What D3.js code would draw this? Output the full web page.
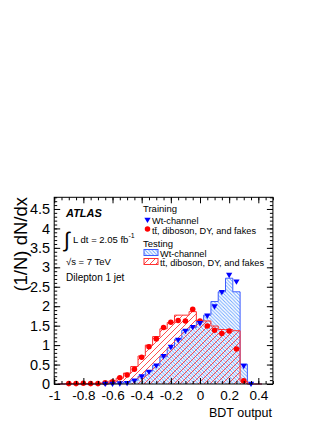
<!DOCTYPE html>
<html>
<head>
<meta charset="utf-8">
<script src="https://cdn.jsdelivr.net/npm/d3@7"></script>
<style>
body { margin: 0; background: #fff; }
text { font-family: "Liberation Sans", Arial, Helvetica, sans-serif; }
</style>
</head>
<body>
<div id="chart"></div>
<script>
//bin centres of the BDT output histograms
var binCentres = [-0.95, -0.9, -0.85, -0.8, -0.75, -0.7, -0.65, -0.6, -0.55, -0.5,
    -0.45, -0.4, -0.35, -0.3, -0.25, -0.2, -0.15, -0.1, -0.05, 0,
    0.05, 0.1, 0.15, 0.2, 0.25, 0.3, 0.35, 0.4];
var binWidth = 0.05;

//training samples (markers)
var wtTrain = [null, null, null, null, null, null, 0.0, 0.0, 0.01, 0.02,
    0.08, 0.19, 0.31, 0.47, 0.71, 0.95, 1.13, 1.36, 1.46, 1.56,
    1.75, 1.99, 2.36, 2.8, 2.63, 0.46, 0.0, null];
var ttTrain = [null, 0.01, 0.01, 0.02, 0.01, 0.01, 0.03, 0.06, 0.16, 0.23,
    0.38, 0.69, 0.96, 1.16, 1.45, 1.59, 1.63, 1.62, 1.92, 1.62,
    1.49, 1.38, 1.30, 1.36, 0.90, 0.08, null, null];

//testing samples (hatched histograms)
var wtTest = [0, 0, 0, 0, 0, 0, 0, 0.01, 0.02, 0.05,
    0.1, 0.2, 0.33, 0.48, 0.7, 0.93, 1.15, 1.38, 1.45, 1.62,
    1.77, 2.12, 2.37, 2.72, 2.37, 0.51, 0, 0];
var ttTest = [0, 0.01, 0.01, 0.01, 0.01, 0.02, 0.03, 0.08, 0.15, 0.28,
    0.45, 0.72, 1.0, 1.22, 1.42, 1.58, 1.77, 1.77, 1.86, 1.62,
    1.62, 1.49, 1.40, 1.40, 1.37, 0.07, 0, 0];

//axis ticks
var xTickLabels = [-1, -0.8, -0.6, -0.4, -0.2, 0, 0.2, 0.4];
var yTickLabels = [0, 0.5, 1, 1.5, 2, 2.5, 3, 3.5, 4, 4.5];

var width = 327, height = 423;

var svg = d3.select("#chart").append("svg")
    .attr("width", width)
    .attr("height", height);

var x = d3.scaleLinear().domain([-1, 0.5]).range([54.2, 272.9]);
var y = d3.scaleLinear().domain([0, 4.8]).range([384, 197.3]);

//hatch patterns
var defs = svg.append("defs");
defs.append("pattern")
    .attr("id", "hatchBlue")
    .attr("patternUnits", "userSpaceOnUse")
    .attr("width", 3.5).attr("height", 3.5)
    .append("path")
    .attr("d", "M-1,2.5 l2,2 M0,0 l3.5,3.5 M2.5,-1 l2,2")
    .attr("stroke", "#6aa4ff")
    .attr("stroke-width", 0.9);
defs.append("pattern")
    .attr("id", "hatchRed")
    .attr("patternUnits", "userSpaceOnUse")
    .attr("width", 6).attr("height", 6)
    .append("path")
    .attr("d", "M-1,1 l2,-2 M0,6 l6,-6 M5,7 l2,-2")
    .attr("stroke", "#ff3a3a")
    .attr("stroke-width", 0.9);

//build the step outline of a histogram
function histPath(vals, close) {
    var p = "M" + x(binCentres[0] - binWidth / 2) + "," + y(0);
    for (var i = 0; i < vals.length; i++) {
        var lo = binCentres[i] - binWidth / 2, hi = binCentres[i] + binWidth / 2;
        p += "L" + x(lo) + "," + y(vals[i]) + "L" + x(hi) + "," + y(vals[i]);
    }
    p += "L" + x(binCentres[vals.length - 1] + binWidth / 2) + "," + y(0);
    if (close) p += "Z";
    return p;
}

var plot = svg.append("g");

//Wt-channel testing
plot.append("path")
    .attr("d", histPath(wtTest, true))
    .attr("fill", "url(#hatchBlue)")
    .attr("stroke", "none");
plot.append("path")
    .attr("d", histPath(wtTest, false))
    .attr("fill", "none")
    .attr("stroke", "#3d5cff")
    .attr("stroke-width", 1);

//ttbar etc testing
plot.append("path")
    .attr("d", histPath(ttTest, true))
    .attr("fill", "url(#hatchRed)")
    .attr("stroke", "none");
plot.append("path")
    .attr("d", histPath(ttTest, false))
    .attr("fill", "none")
    .attr("stroke", "#ff3030")
    .attr("stroke-width", 1);

//training markers
var tri = d3.symbol().type(d3.symbolTriangle).size(17);
var dot = d3.symbol().type(d3.symbolCircle).size(24);

plot.selectAll(".tt")
    .data(binCentres.map(function (c, i) { return [c, ttTrain[i]]; })
        .filter(function (d) { return d[1] !== null; }))
    .enter().append("path")
    .attr("class", "tt")
    .attr("d", dot)
    .attr("transform", function (d) { return "translate(" + x(d[0]) + "," + y(d[1]) + ")"; })
    .attr("fill", "#ff0000");

plot.selectAll(".wt")
    .data(binCentres.map(function (c, i) { return [c, wtTrain[i]]; })
        .filter(function (d) { return d[1] !== null; }))
    .enter().append("path")
    .attr("class", "wt")
    .attr("d", tri)
    .attr("transform", function (d) { return "translate(" + x(d[0]) + "," + (y(d[1]) - 0.5) + ") rotate(180)"; })
    .attr("fill", "#0000ff");

//axes, ticks pointing inwards on all four sides
var xMinor = d3.range(-20, 11).map(function (i) { return i * 0.05; });
var yMinor = d3.range(0, 49).map(function (i) { return i * 0.1; });

function styleAxis(g, size) {
    g.select(".domain").remove();
    g.selectAll("line").attr("stroke", "#000").attr("stroke-width", 1);
    g.attr("font-size", size).attr("font-family", "Liberation Sans, Arial, sans-serif");
    g.selectAll("text").attr("fill", "#000");
}

svg.append("g").attr("transform", "translate(0,384)")
    .call(d3.axisBottom(x).tickValues(xMinor).tickSize(-3).tickFormat(""))
    .call(styleAxis, 13);
svg.append("g").attr("transform", "translate(0,384)")
    .call(d3.axisBottom(x).tickValues(xTickLabels).tickSize(-6).tickPadding(6)
        .tickFormat(function (d) { return String(d); }))
    .call(styleAxis, 13.5);
svg.append("g").attr("transform", "translate(0,197.3)")
    .call(d3.axisTop(x).tickValues(xMinor).tickSize(-3).tickFormat(""))
    .call(styleAxis, 13);
svg.append("g").attr("transform", "translate(0,197.3)")
    .call(d3.axisTop(x).tickValues(xTickLabels).tickSize(-6).tickFormat(""))
    .call(styleAxis, 13);

svg.append("g").attr("transform", "translate(54.2,0)")
    .call(d3.axisLeft(y).tickValues(yMinor).tickSize(-3).tickFormat(""))
    .call(styleAxis, 14);
svg.append("g").attr("transform", "translate(54.2,0)")
    .call(d3.axisLeft(y).tickValues(yTickLabels).tickSize(-6).tickPadding(4)
        .tickFormat(function (d) { return String(d); }))
    .call(styleAxis, 14.5);
svg.append("g").attr("transform", "translate(272.9,0)")
    .call(d3.axisRight(y).tickValues(yMinor).tickSize(-3).tickFormat(""))
    .call(styleAxis, 14);
svg.append("g").attr("transform", "translate(272.9,0)")
    .call(d3.axisRight(y).tickValues(yTickLabels).tickSize(-6).tickFormat(""))
    .call(styleAxis, 14);

//frame
svg.append("rect")
    .attr("x", x(-1)).attr("y", y(4.8))
    .attr("width", x(0.5) - x(-1)).attr("height", y(0) - y(4.8))
    .attr("fill", "none").attr("stroke", "#000").attr("stroke-width", 1);

//axis titles
svg.append("text")
    .attr("transform", "translate(27,197) rotate(-90)")
    .attr("text-anchor", "end")
    .attr("font-size", 18.5)
    .text("(1/N) dN/dx");
svg.append("text")
    .attr("x", 272).attr("y", 417)
    .attr("text-anchor", "end")
    .attr("font-size", 12.5)
    .text("BDT output");

//ATLAS label block
svg.append("text")
    .attr("x", 66).attr("y", 217)
    .attr("font-size", 11).attr("font-weight", "bold").attr("font-style", "italic")
    .text("ATLAS");
svg.append("text")
    .attr("x", 64).attr("y", 247)
    .attr("font-size", 21)
    .text("\u222B");
var lumi = svg.append("text")
    .attr("x", 73).attr("y", 243)
    .attr("font-size", 9.5)
    .text("L dt = 2.05 fb");
lumi.append("tspan").attr("dy", -5).attr("font-size", 7).text("-1");
svg.append("text")
    .attr("x", 66).attr("y", 265)
    .attr("font-size", 9.5)
    .text("\u221As = 7 TeV");
svg.append("text")
    .attr("x", 66).attr("y", 281)
    .attr("font-size", 10)
    .text("Dilepton 1 jet");

//legend
var leg = svg.append("g").attr("font-size", 9.2);
leg.append("text").attr("x", 143).attr("y", 212).attr("font-size", 9.5).text("Training");
leg.append("path").attr("d", tri)
    .attr("transform", "translate(147.5,219.5) rotate(180)").attr("fill", "#0000ff");
leg.append("text").attr("x", 152).attr("y", 224).text("Wt-channel");
leg.append("path").attr("d", dot)
    .attr("transform", "translate(147.5,229)").attr("fill", "#ff0000");
leg.append("text").attr("x", 152).attr("y", 234).text("t\u0074\u0304, diboson, DY, and fakes");
leg.append("text").attr("x", 143).attr("y", 247).attr("font-size", 9.5).text("Testing");
leg.append("rect").attr("x", 144).attr("y", 249.5).attr("width", 14).attr("height", 6)
    .attr("fill", "url(#hatchBlue)").attr("stroke", "#3d5cff");
leg.append("text").attr("x", 160).attr("y", 256.5).text("Wt-channel");
leg.append("rect").attr("x", 144).attr("y", 258.5).attr("width", 14).attr("height", 6)
    .attr("fill", "url(#hatchRed)").attr("stroke", "#ff3030");
leg.append("text").attr("x", 160).attr("y", 265.5).text("t\u0074\u0304, diboson, DY, and fakes");
</script>
</body>
</html>
